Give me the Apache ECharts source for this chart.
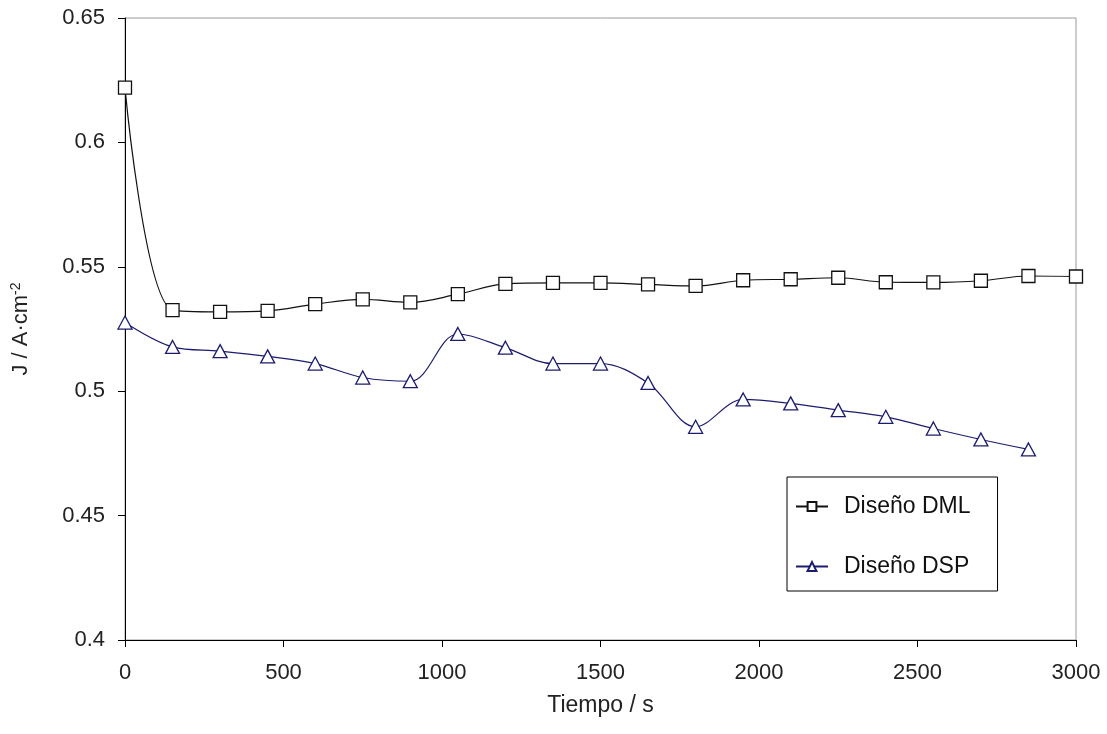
<!DOCTYPE html>
<html>
<head>
<meta charset="utf-8">
<script src="https://cdn.jsdelivr.net/npm/echarts@6/dist/echarts.min.js"></script>
<style>
  html, body { margin: 0; padding: 0; background: #fff; }
  #chart { width: 1107px; height: 734px; }
</style>
</head>
<body>
<div id="chart"></div>
<script>
// Time in seconds
const tiempo = [0, 150, 300, 450, 600, 750, 900, 1050, 1200, 1350, 1500,
                1650, 1800, 1950, 2100, 2250, 2400, 2550, 2700, 2850, 3000];

// Current density, J / A·cm^-2
const disenoDML = [0.622, 0.5326, 0.5319, 0.5323, 0.535, 0.5369, 0.5357, 0.539, 0.5431, 0.5435, 0.5435,
                   0.5429, 0.5423, 0.5446, 0.545, 0.5456, 0.5438, 0.5437, 0.5444, 0.5463, 0.5461];
const disenoDSP = [0.5276, 0.5178, 0.5161, 0.5140, 0.5111, 0.5055, 0.504, 0.5230, 0.5175, 0.5111, 0.5111,
                   0.5033, 0.4857, 0.4967, 0.4951, 0.4924, 0.4897, 0.4850, 0.4806, 0.4766];

const xTicks = [0, 500, 1000, 1500, 2000, 2500, 3000];
const yTicks = [0.4, 0.45, 0.5, 0.55, 0.6, 0.65];

const FONT = 'Liberation Sans, Arial, sans-serif';

function pairs(xs, ys) {
  return ys.map((v, i) => [xs[i], v]);
}

const chart = echarts.init(document.getElementById('chart'), null, { renderer: 'canvas' });

chart.setOption({
  animation: false,
  backgroundColor: '#ffffff',
  grid: {
    left: 125, right: 31, top: 18, bottom: 94,
    containLabel: false,
    outerBoundsMode: 'none',
    show: true, borderColor: '#9a9a9a', borderWidth: 1
  },
  legend: {
    orient: 'vertical',
    left: 787, top: 477,
    padding: [18, 27, 13, 8],
    itemGap: 37,
    itemWidth: 32, itemHeight: 11,
    borderColor: '#000', borderWidth: 1,
    textStyle: { fontFamily: FONT, fontSize: 23, color: '#111', padding: [0, 0, 0, 11] },
    data: ['Diseño DML', 'Diseño DSP']
  },
  xAxis: {
    type: 'value',
    min: xTicks[0], max: xTicks[xTicks.length - 1], interval: 500,
    name: 'Tiempo / s', nameLocation: 'middle', nameGap: 54,
    nameTextStyle: { fontFamily: FONT, fontSize: 23, color: '#222' },
    axisLine: { lineStyle: { color: '#000', width: 1 } },
    axisTick: { inside: false, length: 7, lineStyle: { color: '#000' } },
    axisLabel: { fontFamily: FONT, fontSize: 22, color: '#222', margin: 22, formatter: v => String(v) },
    splitLine: { show: false }
  },
  yAxis: {
    type: 'value',
    min: yTicks[0], max: yTicks[yTicks.length - 1], interval: 0.05,
    name: '{a|J / A·cm}{s|-2}', nameLocation: 'middle', nameGap: 92, nameRotate: 90,
    nameTextStyle: {
      rich: {
        a: { fontFamily: FONT, fontSize: 22, color: '#222' },
        s: { fontFamily: FONT, fontSize: 14, color: '#222', verticalAlign: 'top', padding: [0, 0, 10, 0] }
      }
    },
    axisLine: { lineStyle: { color: '#000', width: 1 } },
    axisTick: { inside: false, length: 7, lineStyle: { color: '#000' } },
    axisLabel: { fontFamily: FONT, fontSize: 22, color: '#222', margin: 20 },
    splitLine: { show: false }
  },
  series: [
    {
      name: 'Diseño DML',
      type: 'line',
      data: pairs(tiempo, disenoDML),
      smooth: 0.35,
      symbol: 'rect', symbolSize: 13,
      itemStyle: { color: '#fff', borderColor: '#111', borderWidth: 1.3 },
      lineStyle: { color: '#111', width: 1.2 },
      z: 3
    },
    {
      name: 'Diseño DSP',
      type: 'line',
      data: pairs(tiempo, disenoDSP),
      smooth: 0.35,
      symbol: 'triangle', symbolSize: [14, 13],
      itemStyle: { color: '#fff', borderColor: '#1c1c6e', borderWidth: 1.3 },
      lineStyle: { color: '#1c1c6e', width: 1.2 },
      z: 2
    }
  ]
});
</script>
</body>
</html>
